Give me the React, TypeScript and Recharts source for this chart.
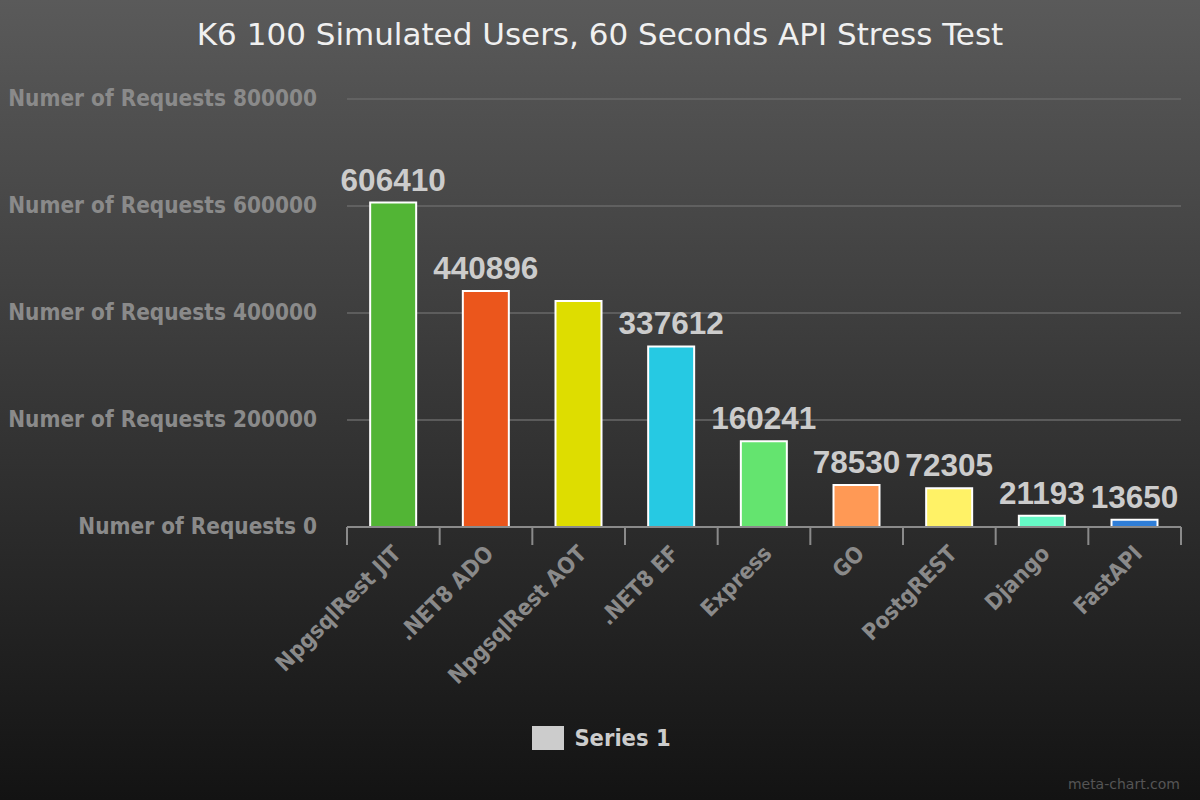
import React from 'react';
import { BarChart, Bar, XAxis, YAxis, CartesianGrid, LabelList, Legend, Cell } from 'recharts';

const categories = ['NpgsqlRest JIT', '.NET8 ADO', 'NpgsqlRest AOT', '.NET8 EF', 'Express', 'GO', 'PostgREST', 'Django', 'FastAPI'];
const requests = [606410, 440896, 422430, 337612, 160241, 78530, 72305, 21193, 13650];
const barColors = ['#52b535', '#eb561c', '#dedd00', '#26c9e3', '#64e46f', '#ff9955', '#fff266', '#66f9c6', '#2f7ed8'];
const hiddenValueLabels = ['NpgsqlRest AOT'];
const yTicks = [0, 200000, 400000, 600000, 800000];
const yTickPrefix = 'Numer of Requests';
const title = 'K6 100 Simulated Users, 60 Seconds API Stress Test';
const seriesName = 'Series 1';
const watermark = 'meta-chart.com';

const data = categories.map((name, i) => ({ name, value: requests[i] }));

const FONT = '"DejaVu Sans Condensed", "DejaVu Sans", sans-serif';

const XTick = (props: any) => {
  const { x, y, payload, index, visibleTicksCount } = props;
  const half = payload.offset || 0;
  const lineColor = '#8a8a8a';
  return (
    <g>
      <line x1={x - half} x2={x - half} y1={y} y2={y + 18} stroke={lineColor} strokeWidth={2} />
      {index === visibleTicksCount - 1 && (
        <line x1={x + half} x2={x + half} y1={y} y2={y + 18} stroke={lineColor} strokeWidth={2} />
      )}
      <text
        x={x + 9}
        y={y + 28}
        transform={`rotate(-45 ${x + 9} ${y + 28})`}
        textAnchor="end"
        fill="#8a8a8a"
        fontFamily={FONT}
        fontWeight="bold"
        fontSize={22.5}
      >
        {payload.value}
      </text>
    </g>
  );
};

const ValueLabel = (props: any) => {
  const { x, y, width, value, index } = props;
  if (hiddenValueLabels.includes(categories[index])) return null;
  return (
    <text
      x={x + width / 2}
      y={y - 12}
      textAnchor="middle"
      fill="#cccccc"
      fontFamily='"Liberation Sans", Arial, sans-serif'
      fontWeight="bold"
      fontSize={31.5}
    >
      {value}
    </text>
  );
};

const LegendContent = () => (
  <div style={{ display: 'flex', justifyContent: 'center', alignItems: 'center', height: 30, paddingLeft: 22 }}>
    <div style={{ width: 32, height: 24, background: '#cccccc', marginRight: 10 }} />
    <span style={{ fontFamily: FONT, fontWeight: 'bold', fontSize: 23.5, color: '#cccccc' }}>{seriesName}</span>
  </div>
);

export default function App() {
  return (
    <div
      style={{
        position: 'absolute',
        left: 0,
        top: 0,
        width: 1200,
        height: 800,
        background: 'linear-gradient(to bottom, #5a5a5a 0%, #131313 100%)',
        overflow: 'hidden',
      }}
    >
      <div
        style={{
          position: 'absolute',
          top: 16,
          left: 0,
          width: 1200,
          textAlign: 'center',
          fontFamily: '"DejaVu Sans", sans-serif',
          fontSize: 31,
          color: '#f0f0f0',
        }}
      >
        {title}
      </div>
      <BarChart
        width={1200}
        height={800}
        data={data}
        margin={{ top: 99, right: 19, bottom: 47, left: 0 }}
        barCategoryGap="25%"
      >
        <CartesianGrid vertical={false} stroke="#686868" strokeWidth={1.5} />
        <YAxis
          width={347}
          domain={[0, 800000]}
          ticks={yTicks}
          axisLine={false}
          tickLine={false}
          tickSize={0}
          tickMargin={30}
          tickFormatter={(v: number) => `${yTickPrefix} ${v}`}
          tick={{ fill: '#8a8a8a', fontFamily: FONT, fontWeight: 'bold', fontSize: 22.4, dy: -1 }}
        />
        <XAxis
          dataKey="name"
          height={196}
          interval={0}
          tickSize={0}
          tickMargin={0}
          tickLine={false}
          axisLine={{ stroke: '#8a8a8a', strokeWidth: 2 }}
          tick={<XTick />}
        />
        <Legend verticalAlign="bottom" height={30} content={<LegendContent />} />
        <Bar dataKey="value" name={seriesName} stroke="#ffffff" strokeWidth={2} isAnimationActive={false}>
          {data.map((d, i) => (
            <Cell key={d.name} fill={barColors[i]} />
          ))}
          <LabelList dataKey="value" content={<ValueLabel />} />
        </Bar>
      </BarChart>
      <div
        style={{
          position: 'absolute',
          right: 20,
          bottom: 8,
          fontFamily: '"DejaVu Sans", sans-serif',
          fontSize: 14,
          color: '#555555',
        }}
      >
        {watermark}
      </div>
    </div>
  );
}
